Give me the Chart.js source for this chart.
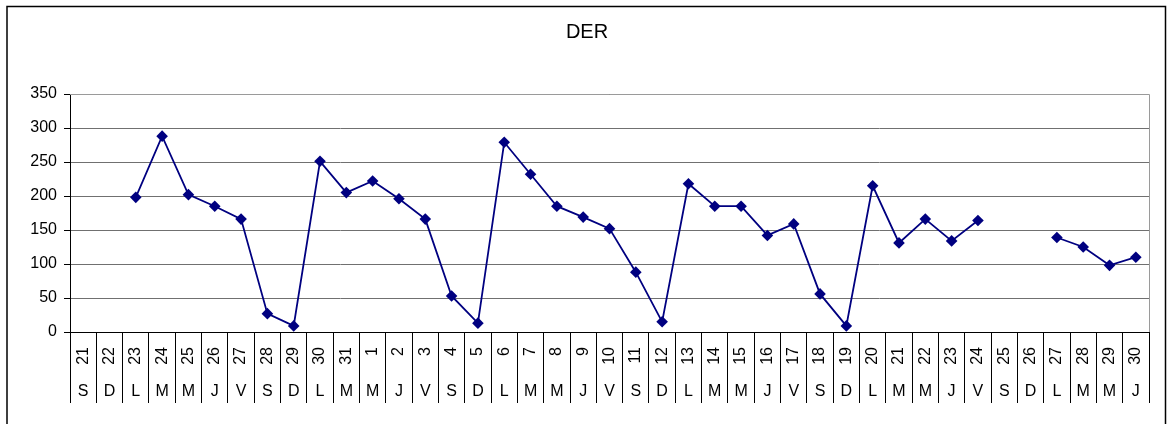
<!DOCTYPE html>
<html>
<head>
<meta charset="utf-8">
<script src="https://cdn.jsdelivr.net/npm/chart.js@4/dist/chart.umd.min.js"></script>
<style>
  html, body { margin: 0; padding: 0; background: #fff; }
  #wrap { position: relative; width: 1168px; height: 424px; }
</style>
</head>
<body>
<div id="wrap"><canvas id="myChart" width="1168" height="424"></canvas></div>
<script>
// days of the period, weekday initials and DER values (null = no data)
var days = ['21','22','23','24','25','26','27','28','29','30','31',
    '1','2','3','4','5','6','7','8','9','10','11','12','13','14','15','16','17','18','19','20',
    '21','22','23','24','25','26','27','28','29','30'];
var weekdays = ['S','D','L','M','M','J','V','S','D','L','M',
    'M','J','V','S','D','L','M','M','J','V','S','D','L','M','M','J','V','S','D','L',
    'M','M','J','V','S','D','L','M','M','J'];
var der = [null, null, 198, 288, 202, 185, 166, 27, 9, 251, 205,
    222, 196, 166, 53, 13, 279, 232, 185, 169, 152, 88, 15, 218, 185, 185, 142, 159, 56, 9, 215,
    131, 166, 134, 164, null, null, 139, 125, 98, 110];
var yTicks = [0, 50, 100, 150, 200, 250, 300, 350];

var font = 'Liberation Sans, Arial, sans-serif';

var frame = {
    id: 'frame',
    afterDraw: function(chart) {
        var ctx = chart.ctx;
        var a = chart.chartArea;
        ctx.save();
        // plot area border (top / right)
        ctx.strokeStyle = '#9a9a9a';
        ctx.lineWidth = 1;
        ctx.beginPath();
        ctx.moveTo(a.left, a.top + 0.5);
        ctx.lineTo(a.right + 0.5, a.top + 0.5);
        ctx.lineTo(a.right + 0.5, a.bottom);
        ctx.stroke();
        // outer chart border
        ctx.strokeStyle = '#000';
        ctx.lineWidth = 1.5;
        ctx.beginPath();
        ctx.moveTo(7, 430);
        ctx.lineTo(7, 6.5);
        ctx.lineTo(1165.5, 6.5);
        ctx.lineTo(1165.5, 430);
        ctx.stroke();
        ctx.restore();
    }
};

var ctx = document.getElementById('myChart').getContext('2d');
var myChart = new Chart(ctx, {
    type: 'line',
    data: {
        labels: days,
        datasets: [{
            label: 'DER',
            data: der,
            xAxisID: 'x',
            borderColor: '#000080',
            backgroundColor: '#000080',
            borderWidth: 1.8,
            pointStyle: 'rectRot',
            pointRadius: 5.8,
            pointBorderWidth: 0,
            pointBackgroundColor: '#000080',
            spanGaps: false,
            tension: 0
        }]
    },
    options: {
        responsive: false,
        animation: false,
        events: [],
        layout: { padding: { left: 25, right: 19, top: 0, bottom: 21 } },
        plugins: {
            legend: { display: false },
            tooltip: { enabled: false },
            title: {
                display: true,
                text: 'DER',
                color: '#000',
                font: { family: font, size: 20, weight: 'normal' },
                padding: { top: 20, bottom: 50 }
            }
        },
        scales: {
            x: {
                type: 'category',
                position: 'bottom',
                offset: true,
                weight: 0,
                afterFit: function(s) { s.height = 36; },
                border: { display: true, color: '#000', width: 1 },
                grid: { offset: true, drawOnChartArea: false, drawTicks: true, tickLength: 36, color: '#000', lineWidth: 1 },
                ticks: {
                    color: '#000', font: { family: font, size: 16 },
                    minRotation: 90, maxRotation: 90, autoSkip: false, padding: -21
                }
            },
            x2: {
                type: 'category',
                position: 'bottom',
                labels: weekdays,
                offset: true,
                weight: 1,
                afterFit: function(s) { s.height = 35; },
                border: { display: false },
                grid: { offset: true, drawOnChartArea: false, drawTicks: true, tickLength: 35, color: '#000', lineWidth: 1 },
                ticks: {
                    color: '#000', font: { family: font, size: 16 },
                    maxRotation: 0, autoSkip: false, padding: -21
                }
            },
            y: {
                min: 0,
                max: 350,
                afterFit: function(s) { s.width = 45; },
                afterBuildTicks: function(s) { s.ticks = yTicks.map(function(v) { return { value: v }; }); },
                border: { display: true, color: '#000', width: 1 },
                grid: { color: '#707070', lineWidth: 1, tickLength: 6, tickColor: '#000' },
                ticks: { color: '#000', font: { family: font, size: 16 }, padding: 7 }
            }
        }
    },
    plugins: [frame]
});
</script>
</body>
</html>
